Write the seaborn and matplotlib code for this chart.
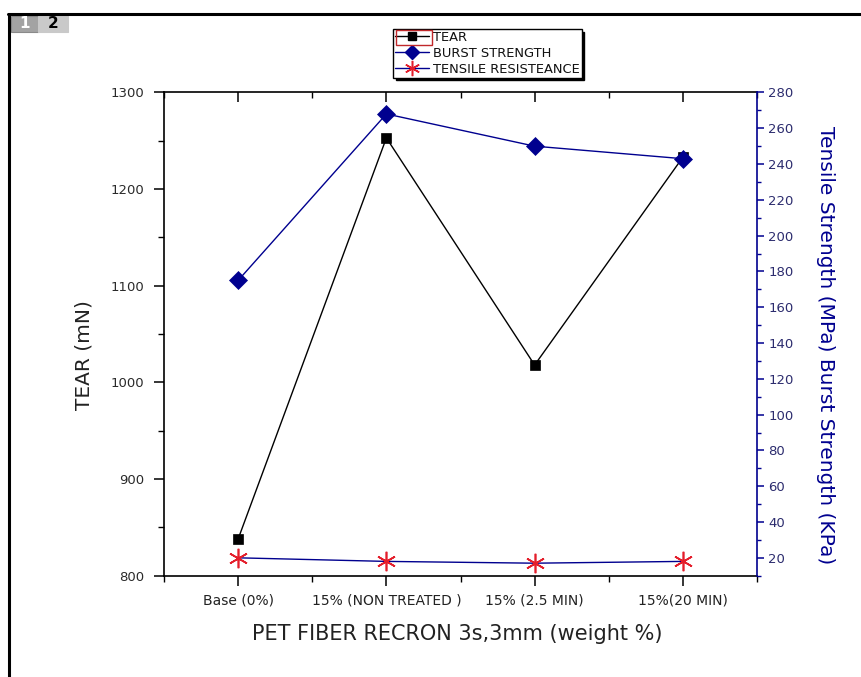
import matplotlib
matplotlib.use("Agg")
import matplotlib.pyplot as plt
from matplotlib.lines import Line2D
from matplotlib.patches import Rectangle
from matplotlib.ticker import MultipleLocator
import numpy as np
import pandas as pd
import seaborn as sns

# ---- data ----
categories = ["Base (0%)", "15% (NON TREATED )", "15% (2.5 MIN)", "15%(20 MIN)"]
tear = [838, 1253, 1018, 1233]
burst_strength = [175, 268, 250, 243]
tensile_resistance = [20, 18, 17, 18]
legend_labels = ["TEAR", "BURST STRENGTH", "TENSILE RESISTEANCE"]

sns.set_theme(style="white")
plt.rcParams["font.family"] = ["DejaVu Sans"]

NAVY = "#00008f"
RED = "#e41e2b"
W, H = 861, 677


def fx(px):
    return px / W


def fy(py):
    return 1 - py / H


df = pd.DataFrame({
    "pos": np.arange(len(categories)),
    "tear": tear,
    "burst": burst_strength,
    "tensile": tensile_resistance,
})

fig = plt.figure(figsize=(W / 100, H / 100), dpi=100)
ax = fig.add_axes([0.1905, 0.1496, 0.6887, 0.7138])
ax2 = ax.twinx()

# tear on the left axis
sns.lineplot(data=df, x="pos", y="tear", ax=ax, color="black", lw=1.0,
             marker="s", markersize=7, markeredgecolor="black",
             markeredgewidth=0.5, legend=False)

# burst strength and tensile resistance on the right axis
sns.lineplot(data=df, x="pos", y="burst", ax=ax2, color=NAVY, lw=1.0,
             marker="D", markersize=9, markeredgecolor=NAVY,
             markeredgewidth=0.5, legend=False)
sns.lineplot(data=df, x="pos", y="tensile", ax=ax2, color=NAVY, lw=1.0,
             marker=(6, 2, 0), markersize=14, markeredgecolor=RED,
             markeredgewidth=1.2, legend=False)

ax.set_xlim(-0.5, 3.5)
ax.set_ylim(800, 1300)
ax2.set_ylim(10, 280)

# x axis: outward ticks at bottom, inward ticks on top
ax.set_xticks(range(len(categories)))
ax.set_xticklabels(categories, fontsize=10, color="#222222")
ax.xaxis.set_minor_locator(MultipleLocator(0.5))
ax.tick_params(axis="x", which="major", direction="out", length=7, width=1.1,
               color="black", pad=6, bottom=True, top=False)
ax.tick_params(axis="x", which="minor", direction="out", length=4, width=1.0,
               color="black", bottom=True, top=False)
top = ax.secondary_xaxis("top")
top.set_xticks(range(len(categories)))
top.xaxis.set_minor_locator(MultipleLocator(0.5))
top.tick_params(axis="x", which="major", direction="in", length=7, width=1.1,
                color="black", labeltop=False)
top.tick_params(axis="x", which="minor", direction="in", length=4, width=1.0,
                color="black")
top.spines["top"].set_linewidth(1.2)
top.spines["top"].set_color("black")

# left y axis
ax.yaxis.set_major_locator(MultipleLocator(100))
ax.yaxis.set_minor_locator(MultipleLocator(50))
ax.tick_params(axis="y", which="major", direction="out", length=7, width=1.1,
               color="black", labelsize=9.5, labelcolor="#2a2a2a", pad=7,
               left=True, right=False)
ax.tick_params(axis="y", which="minor", direction="out", length=4, width=1.0,
               color="black", left=True, right=False)

# right y axis
ax2.set_yticks(np.arange(20, 281, 20))
ax2.yaxis.set_minor_locator(MultipleLocator(10))
ax2.tick_params(axis="y", which="major", direction="out", length=5, width=1.1,
                color=NAVY, labelsize=9.5, labelcolor="#2c2c6e", pad=3)
ax2.tick_params(axis="y", which="minor", direction="out", length=3, width=1.0,
                color=NAVY)

for name in ["left", "bottom"]:
    ax.spines[name].set_color("black")
    ax.spines[name].set_linewidth(1.2)
ax.spines["top"].set_visible(False)
ax.spines["right"].set_visible(False)
for name in ["left", "bottom", "top"]:
    ax2.spines[name].set_visible(False)
ax2.spines["right"].set_color(NAVY)
ax2.spines["right"].set_linewidth(1.2)

# axis titles
ax.set_xlabel("PET FIBER RECRON 3s,3mm (weight %)", fontsize=15, color="#222222")
ax.xaxis.label.set_va("center")
ax.xaxis.set_label_coords(0.494, -0.121)
ax.set_ylabel("TEAR (mN)", fontsize=14.5, color="#222222")
ax.yaxis.label.set_va("center")
ax.yaxis.label.set_ha("center")
ax.yaxis.set_label_coords(-0.135, 0.457)
ax2.set_ylabel("Tensile Strength (MPa) Burst Strength (KPa)", fontsize=14.5,
               color=NAVY, rotation=-90)
ax2.yaxis.label.set_va("center")
ax2.yaxis.label.set_ha("center")
ax2.yaxis.set_label_coords(1.116, 0.478)

# legend
handles = [
    Line2D([], [], color="black", lw=1.0, marker="s", markersize=6,
           markeredgecolor="black"),
    Line2D([], [], color=NAVY, lw=1.0, marker="D", markersize=7,
           markeredgecolor=NAVY),
    Line2D([], [], color=NAVY, lw=1.0, marker=(6, 2, 0), markersize=11,
           markeredgecolor=RED, markeredgewidth=1.1),
]
leg = fig.legend(handles, legend_labels, loc="upper left",
                 bbox_to_anchor=(fx(393), fy(29)), fontsize=9.4, frameon=True,
                 fancybox=False, edgecolor="black", framealpha=1,
                 shadow={"color": "black", "alpha": 1}, handlelength=2.6,
                 labelspacing=0.22, borderpad=0.15, handletextpad=0.3,
                 borderaxespad=0)
leg.get_frame().set_linewidth(1.0)
for t in leg.get_texts():
    t.set_color("#111111")

# selection box around the first legend key
fig.canvas.draw()
inv = fig.transFigure.inverted()
lb = leg.get_window_extent()
tb = leg.get_texts()[0].get_window_extent()
x0, y0 = inv.transform((lb.x0 + 3, tb.y0 - 1))
x1, y1 = inv.transform((tb.x0 - 1, tb.y1 + 1))
fig.add_artist(Rectangle((x0, y0), x1 - x0, y1 - y0, transform=fig.transFigure,
                         fill=False, edgecolor="#c0282a", lw=1.0, zorder=10))

# page frame and layer tabs
fig.add_artist(Line2D([fx(8), 1.0], [fy(14), fy(14)], transform=fig.transFigure,
                      color="black", lw=2.2))
fig.add_artist(Line2D([fx(9), fx(9)], [fy(14), 0.0], transform=fig.transFigure,
                      color="black", lw=2.2))
fig.add_artist(Rectangle((fx(11), fy(32)), fx(38) - fx(11), fy(16) - fy(32),
                         transform=fig.transFigure, facecolor="#a3a3a3",
                         edgecolor="#8a8a8a", lw=0.8))
fig.add_artist(Rectangle((fx(38), fy(32)), fx(68) - fx(38), fy(16) - fy(32),
                         transform=fig.transFigure, facecolor="#c9c9c9",
                         edgecolor="#c9c9c9", lw=0.8))
fig.text(fx(24.5), fy(24), "1", ha="center", va="center", fontsize=11,
         color="white", fontweight="bold")
fig.text(fx(53), fy(24), "2", ha="center", va="center", fontsize=11,
         color="black", fontweight="bold")

fig.savefig("out.png", dpi=100, facecolor="white")
